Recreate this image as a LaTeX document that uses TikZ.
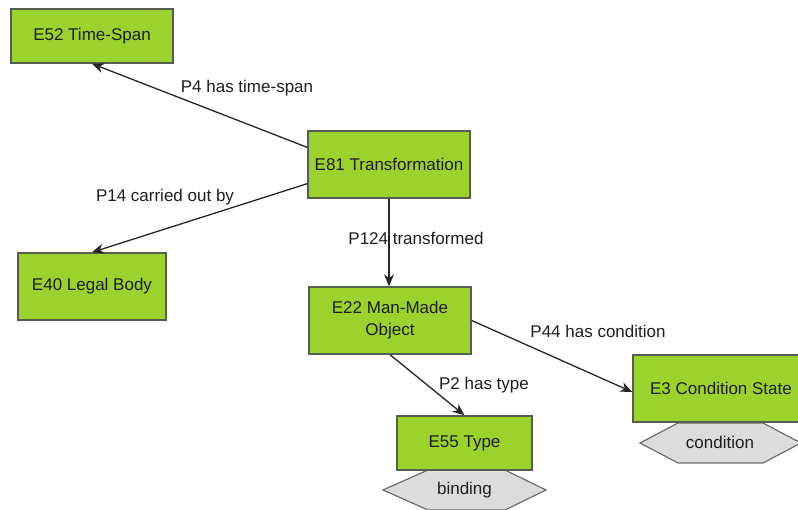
\documentclass[tikz,border=0pt]{standalone}
\usepackage{fontspec}
\setmainfont{Liberation Sans}
\usetikzlibrary{arrows.meta,calc}
\definecolor{boxgreen}{RGB}{155,210,45}
\definecolor{boxline}{RGB}{85,95,80}
\definecolor{hexfill}{RGB}{220,220,220}
\definecolor{hexline}{RGB}{110,110,110}
\definecolor{txt}{RGB}{30,30,30}
\tikzset{
  ent/.style={draw=boxline, line width=1.4pt, fill=boxgreen, rectangle, align=center, text=txt, inner sep=2pt},
  rel/.style={draw=black!85, line width=1.3pt, -{Stealth[length=12pt,width=10pt]}},
  lbl/.style={text=txt, inner sep=1pt},
  hexa/.style={draw=hexline, line width=1.2pt, fill=hexfill},
}
\begin{document}
\begin{tikzpicture}[x=1pt,y=-1pt,font=\fontsize{17}{19.5}\selectfont]
\useasboundingbox (0,0) rectangle (798,510);
\begin{scope}
\clip (0,0) rectangle (798,510);
% hexagons
\draw[hexa] (383,490) -- (428,470) -- (505,470) -- (546,490) -- (505,510) -- (428,510) -- cycle;
\draw[hexa] (640,443) -- (678,423) -- (763,423) -- (801,443) -- (763,463) -- (678,463) -- cycle;
\node[lbl] (binding) at (464.5,490) {binding};
\node[lbl] (cond) at (720,442) {condition};
% entities
\node[ent, minimum width=162pt, minimum height=54pt] (e52) at (92,36) {E52 Time-Span};
\node[ent, minimum width=162pt, minimum height=67pt] (e81) at (389,164.5) {E81 Transformation};
\node[ent, minimum width=148pt, minimum height=67pt] (e40) at (92,286.5) {E40 Legal Body};
\node[ent, minimum width=162pt, minimum height=67pt, font=\fontsize{17}{22}\selectfont] (e22) at (390,320.5) {E22 Man-Made\\Object};
\node[ent, minimum width=135pt, minimum height=54pt] (e55) at (464.5,443) {E55 Type};
\node[ent, minimum width=176pt, minimum height=67pt] (e3) at (721,388.5) {E3 Condition State};
\end{scope}
% connectors
\draw[rel] ($(e81.north west)!0.25!(e81.south west)$) -- (e52.south);
\draw[rel] ($(e81.north west)!0.78!(e81.south west)$) -- (e40.north);
\draw[rel] (e81.south) -- (e81.south |- e22.north);
\draw[rel] (e22.south) -- (e55.north);
\draw[rel] (e22.east) -- ($(e3.north west)!0.55!(e3.south west)$);
% labels
\node[lbl] (l4) at (247,88) {P4 has time-span};
\node[lbl] (l14) at (165,197) {P14 carried out by};
\node[lbl] (l124) at (416,238) {P124 transformed};
\node[lbl] (l2) at (484,385) {P2 has type};
\node[lbl] (l44) at (598,331) {P44 has condition};
\end{tikzpicture}
\end{document}
